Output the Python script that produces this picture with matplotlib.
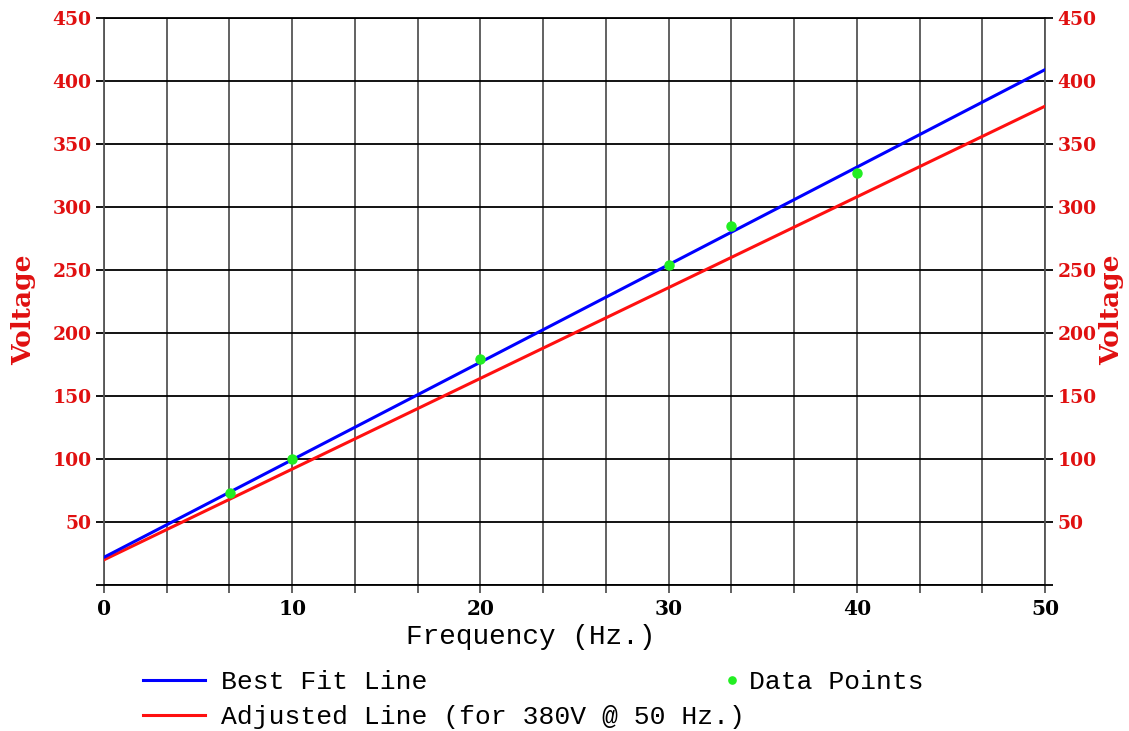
import numpy as np
import matplotlib
matplotlib.use('Agg')
import matplotlib.pyplot as plt
from matplotlib.ticker import FixedLocator, FuncFormatter

# ---- data ----
freq_points = [6.67, 10, 20, 30, 33.33, 40]
volt_points = [73, 100, 179, 254, 285, 327]
fit_x = [0, 50]
fit_y = [22, 409]
adj_x = [0, 50]
adj_y = [20, 380]
y_tick_values = [0, 50, 100, 150, 200, 250, 300, 350, 400, 450]
y_tick_labels = ['', '50', '100', '150', '200', '250', '300', '350', '400', '450']

plt.rcParams['font.family'] = 'DejaVu Serif'
plt.rcParams['font.weight'] = 'bold'
plt.rcParams['font.size'] = 13.5

RED = '#e01010'
GRAY = '#555555'
W, H = 1129, 731

fig = plt.figure(figsize=(W / 100, H / 100), dpi=100)
ax = fig.add_axes([104 / W, 146 / H, 941 / W, 567 / H])

adj_line, = ax.plot(adj_x, adj_y, color='#ff1010', lw=2.2, zorder=3,
                    label='Adjusted Line (for 380V @ 50 Hz.)')
fit_line, = ax.plot(fit_x, fit_y, color='#0000ff', lw=2.2, zorder=3,
                    label='Best Fit Line')
pts, = ax.plot(freq_points, volt_points, 'o', color='#22ee22', ms=6.5,
               ls='none', zorder=4, label='Data Points')

ax.set_xlim(0, 50)
ax.set_ylim(0, 450)
ax.xaxis.set_major_locator(FixedLocator(np.linspace(0, 50, 16)))
ax.xaxis.set_major_formatter(FuncFormatter(
    lambda v, p: f'{v:.0f}' if abs(v / 10 - round(v / 10)) < 1e-6 else ''))
ax.set_yticks(y_tick_values)
ax.set_yticklabels(y_tick_labels)

ax.grid(axis='x', color=GRAY, lw=1.3, zorder=1)
ax.grid(axis='y', color='black', lw=1.3, zorder=1)
ax.set_axisbelow(True)
for side in ['left', 'right']:
    ax.spines[side].set_color(GRAY)
    ax.spines[side].set_linewidth(1.3)
for side in ['top', 'bottom']:
    ax.spines[side].set_color('black')
    ax.spines[side].set_linewidth(1.3)

ax.tick_params(axis='y', which='both', direction='out', left=True, right=True,
               labelleft=True, labelright=True, labelcolor=RED, color='black',
               length=6, width=1.3, pad=3)
ax.tick_params(axis='x', direction='out', color=GRAY, labelcolor='black',
               length=6, width=1.3, pad=4, labelsize=14.5)

fig.text(24 / W, 1 - 310 / H, 'Voltage', rotation=90, color=RED, fontsize=19,
         fontweight='bold', ha='center', va='center')
fig.text(1112 / W, 1 - 310 / H, 'Voltage', rotation=90, color=RED, fontsize=19,
         fontweight='bold', ha='center', va='center')
fig.text(531 / W, 1 - 637 / H, 'Frequency (Hz.)', family='Liberation Mono',
         fontweight='normal', fontsize=20, ha='center', va='center')

prop = {'family': 'Liberation Mono', 'size': 19, 'weight': 'normal'}
fig.legend(handles=[fit_line, adj_line], loc='upper left',
           bbox_to_anchor=(143 / W, 1 - 670 / H), frameon=False, prop=prop,
           handlelength=2.35, handletextpad=0.6, borderpad=0, borderaxespad=0,
           labelspacing=0.42)
fig.legend(handles=[pts], loc='upper left',
           bbox_to_anchor=(725 / W, 1 - 670 / H), frameon=False, prop=prop,
           handlelength=0.5, handletextpad=0.4, borderpad=0, borderaxespad=0,
           markerscale=0.8)

fig.savefig('out.png', dpi=100)
